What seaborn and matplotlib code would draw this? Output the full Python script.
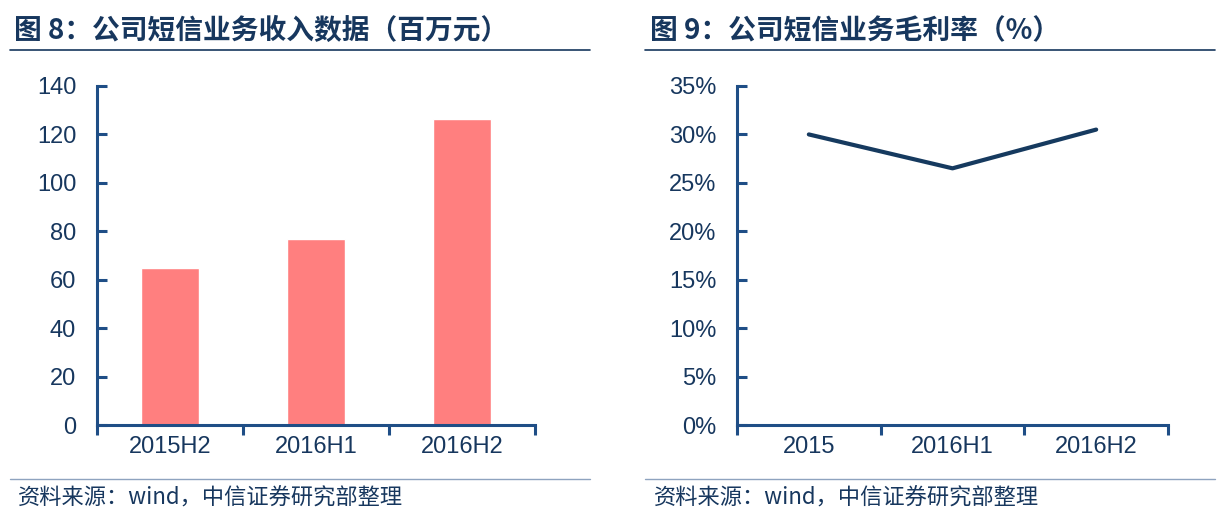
import numpy as np
import pandas as pd
import matplotlib
matplotlib.use('Agg')
import matplotlib.pyplot as plt
import seaborn as sns

# 数据
rev_periods = ['2015H2', '2016H1', '2016H2']
rev_values = [65, 77, 126.5]
gm_periods = ['2015', '2016H1', '2016H2']
gm_values = [0.30, 0.265, 0.305]

title_left = '图 8：公司短信业务收入数据（百万元）'
title_right = '图 9：公司短信业务毛利率（%）'
source_text = '资料来源：wind，中信证券研究部整理'

sns.set_theme(style='white')
plt.rcParams['font.family'] = ['Liberation Sans', 'Noto Sans CJK SC', 'DejaVu Sans']

navy = '#17375E'
axis_col = '#1F4E86'
bar_col = '#FF7F7F'
W, H = 1224, 526

fig = plt.figure(figsize=(W / 100, H / 100), dpi=100)


def px_axes(x0, x1, y_top, y_bot):
    return fig.add_axes([x0 / W, 1 - y_bot / H, (x1 - x0) / W, (y_bot - y_top) / H])


def style_axes(ax, labels):
    for s in ['top', 'right']:
        ax.spines[s].set_visible(False)
    for s in ['left', 'bottom']:
        ax.spines[s].set_color(axis_col)
        ax.spines[s].set_linewidth(2.2)
    ax.set_xlim(-0.5, 2.5)
    ax.set_xticks(range(len(labels)))
    ax.set_xticklabels(labels)
    ax.set_xticks([-0.5, 0.5, 1.5, 2.5], minor=True)
    ax.tick_params(axis='x', which='major', bottom=True, length=0, pad=8, labelsize=17, labelcolor=navy)
    ax.tick_params(axis='x', which='minor', bottom=True, length=7, width=2.2, color=axis_col, direction='out')
    ax.tick_params(axis='y', which='major', left=True, length=7, width=2.2, color=axis_col, direction='in',
                   labelsize=17, labelcolor=navy, pad=15)
    ax.set_xlabel('')
    ax.set_ylabel('')
    ax.grid(False)


# 左图：收入柱状图
ax1 = px_axes(97, 535, 86, 425)
sns.barplot(x=rev_periods, y=rev_values, color=bar_col, width=0.4, saturation=1, ax=ax1)
ax1.set_ylim(0, 140)
ax1.set_yticks(range(0, 141, 20))
style_axes(ax1, rev_periods)

# 右图：毛利率折线
ax2 = px_axes(737, 1168, 86, 425)
sns.lineplot(x=list(range(len(gm_periods))), y=gm_values, color='#163A5F', linewidth=3, ax=ax2)
ax2.set_ylim(0, 0.35)
ax2.set_yticks(np.arange(0, 0.351, 0.05))
ax2.set_yticklabels([f'{int(round(v * 100))}%' for v in np.arange(0, 0.351, 0.05)])
style_axes(ax2, gm_periods)

# 标题、分隔线、来源
for x_text, x0, x1, title in [(14, 10, 590, title_left), (650, 645, 1215, title_right)]:
    fig.text(x_text / W, 1 - 31 / H, title, fontsize=20, color=navy, fontweight='bold',
             va='center', ha='left', family=['Noto Sans CJK SC', 'DejaVu Sans'])
    fig.add_artist(plt.Line2D([x0 / W, x1 / W], [1 - 50 / H, 1 - 50 / H], color=navy, lw=1.2))
    fig.add_artist(plt.Line2D([x0 / W, x1 / W], [1 - 479 / H, 1 - 479 / H], color='#8EA3BF', lw=1))
    fig.text(x_text / W + 4 / W, 1 - 498 / H, source_text, fontsize=16, color=navy,
             va='center', ha='left', family=['Noto Sans CJK SC', 'DejaVu Sans'])

fig.savefig('out.png', dpi=100)
